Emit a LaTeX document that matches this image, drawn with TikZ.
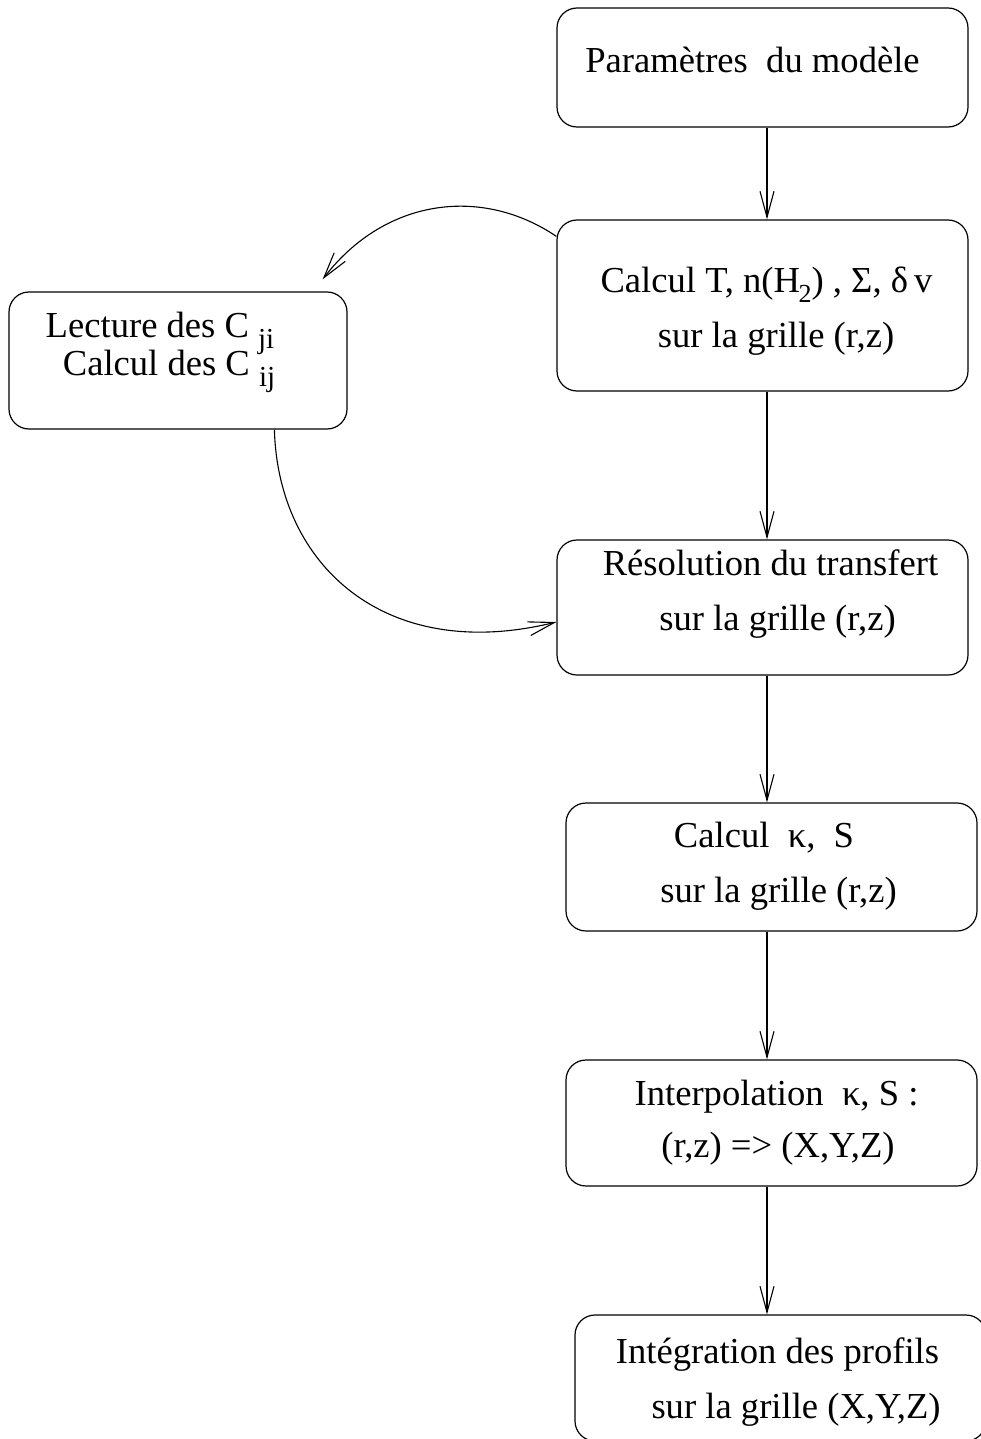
\documentclass[tikz,border=0pt]{standalone}
\usepackage{fontspec}
\setmainfont{Liberation Serif}
\usetikzlibrary{arrows.meta,calc}
\newcommand{\mysub}[1]{\raisebox{-0.3em}{\fontsize{26}{26}\selectfont #1}}
\newcommand{\mysubb}[1]{\raisebox{-0.32em}{\fontsize{29}{29}\selectfont #1}}
\begin{document}
\begin{tikzpicture}[x=1pt,y=-1pt,
  box/.style={draw, line width=1.2pt, rounded corners=20pt, inner sep=0pt},
  txt/.style={anchor=base, inner sep=0pt, font=\fontsize{36.6}{40}\selectfont},
  arr/.style={line width=1.1pt, -{Straight Barb[length=26pt,width=14pt,line width=1.1pt]}}]
\useasboundingbox (0,0) rectangle (980,1439);
% boxes
\node[box, minimum width=411pt, minimum height=119pt] (b1) at (762.5,67.5) {};
\node[box, minimum width=411pt, minimum height=171pt] (b2) at (762.5,305.5) {};
\node[box, minimum width=338pt, minimum height=137pt] (b3) at (178,360.5) {};
\node[box, minimum width=411pt, minimum height=135pt] (b4) at (762.5,607.5) {};
\node[box, minimum width=411pt, minimum height=128pt] (b5) at (771.5,867) {};
\node[box, minimum width=411pt, minimum height=126pt] (b6) at (771.5,1123) {};
\node[box, minimum width=411pt, minimum height=126pt] (b7) at (780.5,1378) {};
% texts
\node[txt] (t1) at (752.5,73) {Paramètres\ \ du modèle};
\node[txt] (t2a) at (766.5,292) {Calcul T, n(H\kern-1.5pt\mysub{2}) , Σ, δ\,v};
\node[txt] (t2b) at (776,347) {sur la grille (r,z)};
\node[txt] (t3a) at (160,337) {Lecture des C \mysubb{ji}};
\node[txt] (t3b) at (169,375) {Calcul des C \mysubb{ij}};
\node[txt] (t4a) at (770.5,575) {Résolution du transfert};
\node[txt] (t4b) at (777.5,630) {sur la grille (r,z)};
\node[txt] (t5a) at (764,847) {Calcul\ \ κ,\ \ S};
\node[txt] (t5b) at (778.5,902) {sur la grille (r,z)};
\node[txt] (t6a) at (776.5,1105) {Interpolation\ \ κ,\ S :};
\node[txt] (t6b) at (778,1157) {(r,z) => (X,Y,Z)};
\node[txt] (t7a) at (777.5,1363) {Intégration des profils};
\node[txt] (t7b) at (796,1418) {sur la grille (X,Y,Z)};
% vertical connectors
\coordinate (ax) at (767,0);
\draw[arr] (b1.south -| ax) -- (b2.north -| ax);
\draw[arr] (b2.south -| ax) -- (b4.north -| ax);
\draw[arr] (b4.south -| ax) -- (b5.north -| ax);
\draw[arr] (b5.south -| ax) -- (b6.north -| ax);
\draw[arr] (b6.south -| ax) -- (b7.north -| ax);
% curved connectors
\coordinate (c1e) at ($(b3.north east)+(-25,-12)$);
\draw[arr] ($(b2.north west)+(0,17)$) .. controls (482,186) and (385,198) .. (c1e);
\draw[arr] ($(b3.south west)+(266,0)$) .. controls (278,565) and (385,664) .. ($(b4.west)+(0,14.5)$);
\end{tikzpicture}
\end{document}
